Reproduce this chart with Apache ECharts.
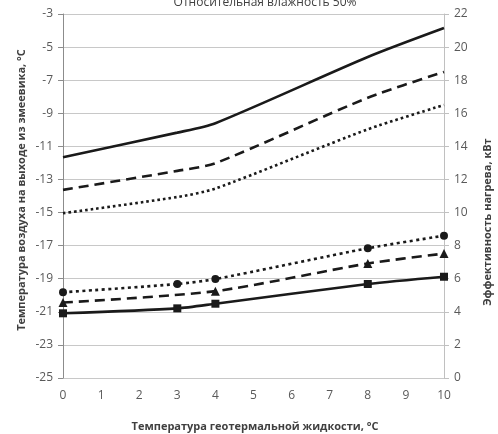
<!DOCTYPE html>
<html><head><meta charset="utf-8">
<script src="https://cdn.jsdelivr.net/npm/echarts@6/dist/echarts.min.js"></script>
<style>html,body{margin:0;padding:0;background:#fff}#c{width:498px;height:434px}</style>
</head><body><div id="c"></div>
<script>
var titleText = 'Относительная влажность 50%';
var xName = 'Температура геотермальной жидкости, °C';
var yLeftName = 'Температура воздуха на выходе из змеевика, °C';
var yRightName = 'Эффективность нагрева, кВт';

var xSolidT  = [0, 3, 4, 8, 10];
var tSolid   = [-11.66, -10.17, -9.6, -5.6, -3.85];
var xDashT   = [0, 3, 4, 8, 10];
var tDash    = [-13.63, -12.48, -12.02, -8.06, -6.5];
var xDotT    = [0, 3, 4, 8, 10];
var tDot     = [-15.04, -14.06, -13.55, -9.97, -8.5];

var xCircle  = [0, 3, 4, 8, 10];
var pCircle  = [5.18, 5.68, 5.98, 7.84, 8.6];
var xTri     = [0, 4, 8, 10];
var pTri     = [4.56, 5.25, 6.92, 7.52];
var xSquare  = [0, 3, 4, 8, 10];
var pSquare  = [3.91, 4.21, 4.49, 5.68, 6.12];

function pairs(xs, ys){ return xs.map(function(x,i){ return [x, ys[i]]; }); }

var ink = '#1a1a1a';
var font = 'Open Sans';
var chart = echarts.init(document.getElementById('c'));

function lineSeries(name, data, yIdx, dash, symbol, size){
  return {
    name: name, type: 'line', yAxisIndex: yIdx, data: data,
    smooth: 0.25,
    symbol: symbol || 'none', symbolSize: size || 8, showSymbol: !!symbol,
    itemStyle: {color: ink, borderWidth: 0},
    lineStyle: {color: ink, width: 2.6, type: dash, cap: 'butt'},
    animation: false, z: 3
  };
}

chart.setOption({
  animation: false,
  backgroundColor: '#fff',
  title: {text: titleText, left: 260, top: -8, textAlign: 'center',
    textStyle: {fontFamily: font, fontSize: 12, fontWeight: 'normal', color: '#404040'}},
  grid: {left: 63, right: 54, top: 14, bottom: 56},
  xAxis: {
    type: 'value', min: 0, max: 10, interval: 1,
    axisLine: {show: false}, axisTick: {show: false}, splitLine: {show: false},
    axisLabel: {fontFamily: font, fontSize: 12, color: '#595959', margin: 12}
  },
  yAxis: [{
    type: 'value', min: -25, max: -3, interval: 2,
    axisLine: {show: true, lineStyle: {color: '#8c8c8c', width: 1}},
    axisTick: {show: true, length: 5, lineStyle: {color: '#8c8c8c'}},
    splitLine: {show: true, lineStyle: {color: '#c8c8c8', width: 1}},
    axisLabel: {fontFamily: font, fontSize: 12, color: '#595959', margin: 10}
  }, {
    type: 'value', min: 0, max: 22, interval: 2, position: 'right',
    axisLine: {show: true, lineStyle: {color: '#c0c0c0', width: 1}},
    axisTick: {show: true, length: 5, lineStyle: {color: '#c0c0c0'}},
    splitLine: {show: false},
    axisLabel: {fontFamily: font, fontSize: 12, color: '#595959', margin: 10}
  }],
  graphic: [
    {type: 'text', x: 255, y: 427, style: {text: xName, font: 'bold 11px "Open Sans"', fill: '#404040', textAlign: 'center', textVerticalAlign: 'middle'}},
    {type: 'text', x: 22, y: 190, rotation: Math.PI/2, style: {text: yLeftName, font: 'bold 11px "Open Sans"', fill: '#404040', textAlign: 'center', textVerticalAlign: 'middle'}},
    {type: 'text', x: 488, y: 222, rotation: Math.PI/2, style: {text: yRightName, font: 'bold 11px "Open Sans"', fill: '#404040', textAlign: 'center', textVerticalAlign: 'middle'}}
  ],
  series: [
    lineSeries('tSolid', pairs(xSolidT, tSolid), 0, 'solid'),
    lineSeries('tDash', pairs(xDashT, tDash), 0, [10, 6]),
    lineSeries('tDot', pairs(xDotT, tDot), 0, [2.6, 3]),
    lineSeries('pCircle', pairs(xCircle, pCircle), 1, [3, 3.5], 'circle', 8),
    lineSeries('pTri', pairs(xTri, pTri), 1, [10, 6], 'triangle', 9),
    lineSeries('pSquare', pairs(xSquare, pSquare), 1, 'solid', 'rect', 8)
  ]
});
</script></body></html>
